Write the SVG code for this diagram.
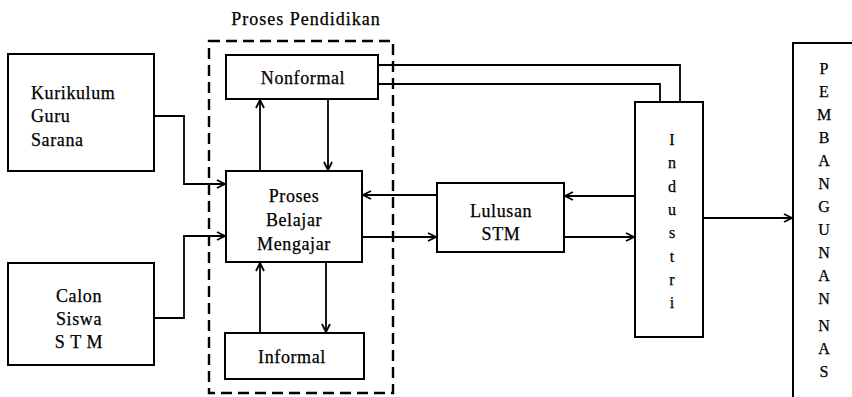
<svg xmlns="http://www.w3.org/2000/svg" width="852" height="397" viewBox="0 0 852 397">
<style>
.box{fill:#fff;stroke:#000;stroke-width:2}
.t{font-size:18px;letter-spacing:0.6px;fill:#000;stroke:#000;stroke-width:0.25}
.c{text-anchor:middle}
.v{font-size:16px;fill:#000;stroke:#000;stroke-width:0.25;text-anchor:middle}
.ln{fill:none;stroke:#000;stroke-width:1.8}
.arr{fill:none;stroke:#000;stroke-width:1.8;marker-end:url(#ah)}
</style>
<defs>
<marker id="ah" viewBox="0 0 10 10" refX="9" refY="5" markerWidth="10" markerHeight="10" markerUnits="userSpaceOnUse" orient="auto">
<path d="M1,1 L9,5 L1,9" fill="none" stroke="#000" stroke-width="1.8"/>
</marker>
</defs>
<rect width="852" height="397" fill="#fff"/>
<g font-family="Liberation Serif, Times New Roman, serif">
<g id="proses-pendidikan">
<rect x="209" y="41" width="184" height="352" fill="none" stroke="#000" stroke-width="2.4" stroke-dasharray="11,6"/>
<text class="t c" x="306" y="25" style="letter-spacing:1px">Proses  Pendidikan</text>
</g>

<g id="kurikulum">
<rect class="box" x="8" y="54" width="146" height="117"/>
<text class="t" x="31" y="99">Kurikulum</text>
<text class="t" x="31" y="122">Guru</text>
<text class="t" x="31" y="146">Sarana</text>
</g>

<g id="calon">
<rect class="box" x="8" y="263" width="146" height="102"/>
<text class="t c" x="79" y="302">Calon</text>
<text class="t c" x="79" y="325">Siswa</text>
<text class="t c" x="79" y="348">S T M</text>
</g>

<g id="nonformal">
<rect class="box" x="226" y="55" width="152" height="44"/>
<text class="t c" x="303" y="84">Nonformal</text>
</g>

<g id="pbm">
<rect class="box" x="226" y="171" width="136" height="91"/>
<text class="t c" x="294" y="202">Proses</text>
<text class="t c" x="294" y="226">Belajar</text>
<text class="t c" x="294" y="250">Mengajar</text>
</g>

<g id="informal">
<rect class="box" x="225" y="333" width="139" height="46"/>
<text class="t c" x="292" y="363">Informal</text>
</g>

<g id="lulusan">
<rect class="box" x="437" y="183" width="127" height="69"/>
<text class="t c" x="501" y="217">Lulusan</text>
<text class="t c" x="501" y="240">STM</text>
</g>

<g id="industri">
<rect class="box" x="635" y="102" width="68" height="235"/>
<text class="v" x="672" y="145">I</text>
<text class="v" x="672" y="168">n</text>
<text class="v" x="672" y="192">d</text>
<text class="v" x="672" y="215">u</text>
<text class="v" x="672" y="238">s</text>
<text class="v" x="672" y="262">t</text>
<text class="v" x="672" y="285">r</text>
<text class="v" x="672" y="308">i</text>
</g>

<g id="pembangunan">
<path d="M793,400 L793,43 L852,43" fill="none" stroke="#000" stroke-width="2"/>
<text class="v" x="824" y="74">P</text>
<text class="v" x="824" y="97">E</text>
<text class="v" x="824" y="120">M</text>
<text class="v" x="824" y="143">B</text>
<text class="v" x="824" y="166">A</text>
<text class="v" x="824" y="189">N</text>
<text class="v" x="824" y="212">G</text>
<text class="v" x="824" y="235">U</text>
<text class="v" x="824" y="258">N</text>
<text class="v" x="824" y="281">A</text>
<text class="v" x="824" y="304">N</text>
<text class="v" x="824" y="331">N</text>
<text class="v" x="824" y="354">A</text>
<text class="v" x="824" y="377">S</text>
</g>
</g>
<g id="connectors">
<path class="arr" d="M154,116 H184 V184 H225"/>
<path class="arr" d="M154,318 H184 V236 H225"/>
<path class="arr" d="M260,171 V100"/>
<path class="arr" d="M328,99 V170"/>
<path class="arr" d="M326,262 V332"/>
<path class="arr" d="M260,333 V263"/>
<path class="arr" d="M437,195 H363"/>
<path class="arr" d="M362,237 H436"/>
<path class="arr" d="M635,196 H565"/>
<path class="arr" d="M564,237 H634"/>
<path class="arr" d="M703,218 H792"/>
<path class="ln" d="M378,65 H680 V102"/>
<path class="ln" d="M378,84 H660 V102"/>
</g>
</svg>
